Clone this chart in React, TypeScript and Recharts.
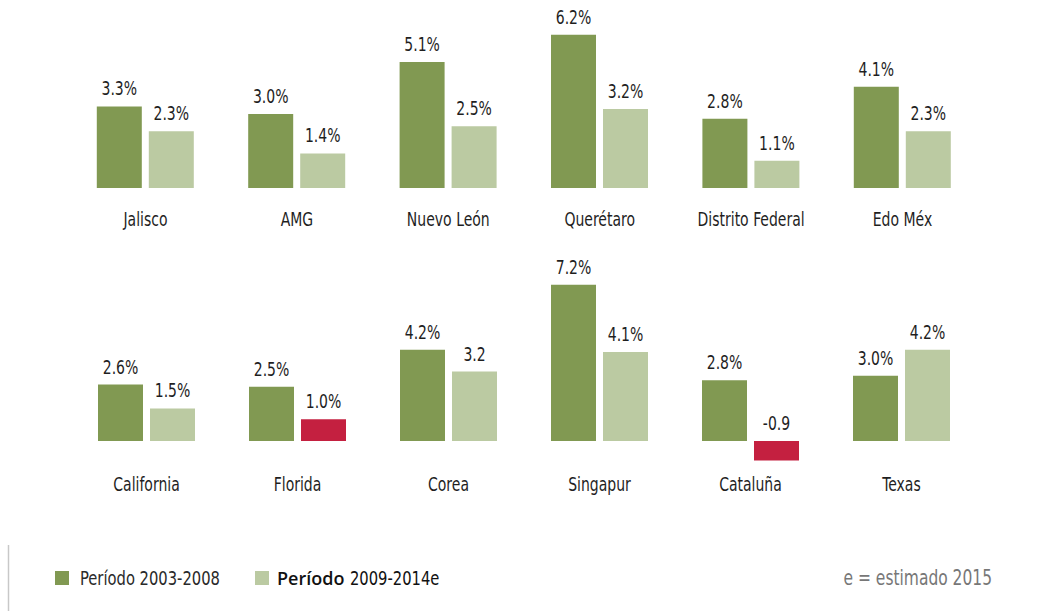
import { BarChart, Bar, XAxis, YAxis, LabelList, Cell } from 'recharts';

// fila superior: estados y zonas de México
const topCategories = ['Jalisco', 'AMG', 'Nuevo León', 'Querétaro', 'Distrito Federal', 'Edo Méx'];
const topPeriod1 = [3.3, 3.0, 5.1, 6.2, 2.8, 4.1];
const topPeriod2 = [2.3, 1.4, 2.5, 3.2, 1.1, 2.3];
const topLabels1 = ['3.3%', '3.0%', '5.1%', '6.2%', '2.8%', '4.1%'];
const topLabels2 = ['2.3%', '1.4%', '2.5%', '3.2%', '1.1%', '2.3%'];

// fila inferior: comparativos internacionales
const bottomCategories = ['California', 'Florida', 'Corea', 'Singapur', 'Cataluña', 'Texas'];
const bottomPeriod1 = [2.6, 2.5, 4.2, 7.2, 2.8, 3.0];
const bottomPeriod2 = [1.5, 1.0, 3.2, 4.1, -0.9, 4.2];
const bottomLabels1 = ['2.6%', '2.5%', '4.2%', '7.2%', '2.8%', '3.0%'];
const bottomLabels2 = ['1.5%', '1.0%', '3.2', '4.1%', '-0.9', '4.2%'];

const legendItems = ['Período 2003-2008', 'Período 2009-2014e'];
const footnote = 'e = estimado 2015';

const FONT = '"DejaVu Sans Condensed", "DejaVu Sans", sans-serif';
const SQUEEZE = 0.82; // la fuente original es más estrecha
const DARK = '#819952';
const LIGHT = '#bbcaa2';
const RED = '#c42040';
const TEXT = '#1f1f1f';
const HIGHLIGHT = ['Florida', 'Cataluña'];

const buildRows = (cats: string[], p1: number[], p2: number[], l1: string[], l2: string[]) =>
  cats.map((name, i) => ({ name, p1: p1[i], p2: p2[i], l1: l1[i], l2: l2[i] }));

const topData = buildRows(topCategories, topPeriod1, topPeriod2, topLabels1, topLabels2);
const bottomData = buildRows(bottomCategories, bottomPeriod1, bottomPeriod2, bottomLabels1, bottomLabels2);

const NarrowText = ({ x, y, anchor = 'middle', size = 19, fill = TEXT, children }: any) => (
  <text
    transform={`translate(${x} ${y}) scale(${SQUEEZE} 1)`}
    x={0}
    y={0}
    textAnchor={anchor}
    fill={fill}
    fontSize={size}
    fontFamily={FONT}
  >
    {children}
  </text>
);

const renderTopLabel = (props: any) => {
  const { x, y, width, height, value } = props;
  const top = Math.min(Number(y), Number(y) + Number(height));
  return (
    <NarrowText x={Number(x) + Number(width) / 2} y={top - 11}>
      {value}
    </NarrowText>
  );
};

const makeTick = (dy: number) => (props: any) => {
  const { x, y, payload } = props;
  return (
    <NarrowText x={x} y={Number(y) + dy}>
      {payload.value}
    </NarrowText>
  );
};

interface RowProps {
  data: ReturnType<typeof buildRows>;
  top: number;
  height: number;
  margin: { top: number; right: number; left: number; bottom: number };
  domain: [number, number];
  axisHeight: number;
  tickDy: number;
}

const BarRow = ({ data, top, height, margin, domain, axisHeight, tickDy }: RowProps) => (
  <div style={{ position: 'absolute', left: 0, top }}>
    <BarChart width={1038} height={height} data={data} margin={margin} barSize={45} barGap={7}>
      <XAxis
        dataKey="name"
        axisLine={false}
        tickLine={false}
        height={axisHeight}
        interval={0}
        tick={makeTick(tickDy)}
      />
      <YAxis hide domain={domain} />
      <Bar dataKey="p1" fill={DARK} isAnimationActive={false}>
        <LabelList dataKey="l1" content={renderTopLabel} />
      </Bar>
      <Bar dataKey="p2" fill={LIGHT} isAnimationActive={false}>
        {data.map((d) => (
          <Cell key={d.name} fill={HIGHLIGHT.includes(d.name) ? RED : LIGHT} />
        ))}
        <LabelList dataKey="l2" content={renderTopLabel} />
      </Bar>
    </BarChart>
  </div>
);

export default function App() {
  const [word, period] = legendItems[1].split(' ');
  return (
    <div style={{ position: 'absolute', left: 0, top: 0, width: 1038, height: 611, background: '#fff', fontFamily: FONT }}>
      <BarRow
        data={topData}
        top={0}
        height={238}
        margin={{ top: 15.1, right: 59.8, left: 69.8, bottom: 0 }}
        domain={[0, 7]}
        axisHeight={50}
        tickDy={29.5}
      />
      <BarRow
        data={bottomData}
        top={250}
        height={264}
        margin={{ top: 28.2, right: 61, left: 71, bottom: 0 }}
        domain={[-1.5, 7.5]}
        axisHeight={40.5}
        tickDy={9}
      />
      <svg width={1038} height={80} style={{ position: 'absolute', left: 0, top: 531 }}>
        <line x1={8.5} x2={8.5} y1={14} y2={80} stroke="#c8c8c8" strokeWidth={1.5} />
        <rect x={55} y={40} width={14} height={14} fill={DARK} />
        <NarrowText x={80} y={54} anchor="start" size={20} fill="#2a2a2a">
          {legendItems[0]}
        </NarrowText>
        <rect x={255} y={40} width={14} height={14} fill={LIGHT} />
        <text x={277} y={54} fontFamily='"Open Sans", sans-serif' fontSize={18} fontWeight={600} fill="#111">
          {word}
        </text>
        <NarrowText x={350} y={54} anchor="start" size={20} fill="#111">
          {period}
        </NarrowText>
        <NarrowText x={992} y={54} anchor="end" size={21} fill="#777">
          {footnote}
        </NarrowText>
      </svg>
    </div>
  );
}
